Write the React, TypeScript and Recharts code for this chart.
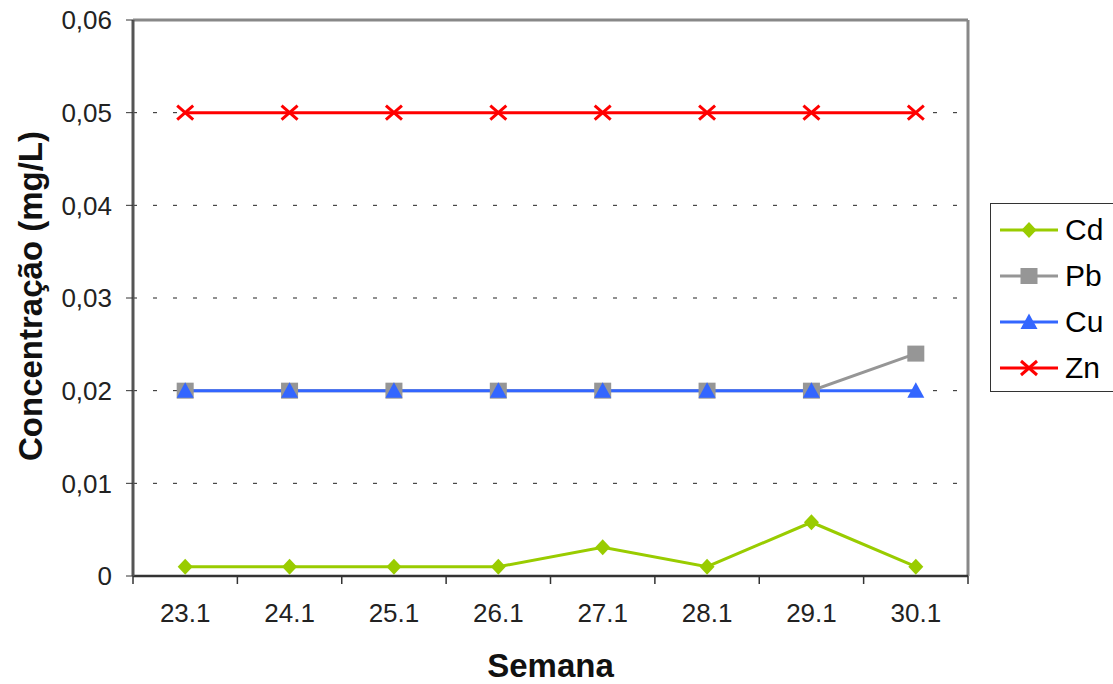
import React from 'react';
import { LineChart, Line, XAxis, YAxis, CartesianGrid } from 'recharts';

const WEEKS = ['23.1', '24.1', '25.1', '26.1', '27.1', '28.1', '29.1', '30.1'];
const CD = [0.001, 0.001, 0.001, 0.001, 0.0031, 0.001, 0.0058, 0.001];
const PB = [0.02, 0.02, 0.02, 0.02, 0.02, 0.02, 0.02, 0.024];
const CU = [0.02, 0.02, 0.02, 0.02, 0.02, 0.02, 0.02, 0.02];
const ZN = [0.05, 0.05, 0.05, 0.05, 0.05, 0.05, 0.05, 0.05];
const Y_TICKS = [0, 0.01, 0.02, 0.03, 0.04, 0.05, 0.06];

const SERIES = [
  { key: 'Cd', color: '#99CC00', shape: 'diamond' },
  { key: 'Pb', color: '#969696', shape: 'square' },
  { key: 'Cu', color: '#3366FF', shape: 'triangle' },
  { key: 'Zn', color: '#FF0000', shape: 'cross' },
];

const data = WEEKS.map((week, i) => ({ week, Cd: CD[i], Pb: PB[i], Cu: CU[i], Zn: ZN[i] }));

const FONT = '"Liberation Sans", Arial, sans-serif';
const W = 1113;
const H = 684;
const M = { top: 19, right: 144, bottom: 107, left: 53 };
const Y_W = 80;
const PLOT_W = W - M.left - Y_W - M.right - 1;
const BAND = PLOT_W / WEEKS.length;

const Marker = ({ shape, color, cx, cy }: { shape: string; color: string; cx: number; cy: number }) => {
  switch (shape) {
    case 'diamond':
      return <polygon points={`${cx},${cy - 8} ${cx + 7.5},${cy} ${cx},${cy + 8} ${cx - 7.5},${cy}`} fill={color} />;
    case 'square':
      return <rect x={cx - 8.5} y={cy - 8} width={17} height={16} fill={color} />;
    case 'triangle':
      return <polygon points={`${cx},${cy - 8.5} ${cx + 8.5},${cy + 7} ${cx - 8.5},${cy + 7}`} fill={color} />;
    default:
      return (
        <path
          d={`M${cx - 8},${cy - 7}L${cx + 8},${cy + 7}M${cx + 8},${cy - 7}L${cx - 8},${cy + 7}`}
          stroke={color}
          strokeWidth={3}
          fill="none"
        />
      );
  }
};

const fmtY = (v: number) => (v === 0 ? '0' : v.toFixed(2).replace('.', ','));

const XTick = (props: any) => {
  const { x, y, payload, index } = props;
  return (
    <g>
      <line x1={x - BAND / 2} x2={x - BAND / 2} y1={y} y2={y + 8} stroke="#333" strokeWidth={1.5} />
      {index === WEEKS.length - 1 && (
        <line x1={x + BAND / 2} x2={x + BAND / 2} y1={y} y2={y + 8} stroke="#333" strokeWidth={1.5} />
      )}
      <text x={x} y={y + 46} textAnchor="middle" fontSize={26} fill="#222" fontFamily={FONT}>
        {payload.value}
      </text>
    </g>
  );
};

const Legendbox = () => (
  <div
    style={{
      position: 'absolute',
      left: 990,
      top: 203,
      width: 140,
      height: 189,
      border: '1px solid #333',
      background: '#fff',
      paddingTop: 3,
      boxSizing: 'border-box',
    }}
  >
    {SERIES.map((s) => (
      <div key={s.key} style={{ height: 46, display: 'flex', alignItems: 'center' }}>
        <svg width={60} height={20} style={{ marginLeft: 8 }}>
          <line x1={1} x2={59} y1={10} y2={10} stroke={s.color} strokeWidth={3} />
          <Marker shape={s.shape} color={s.color} cx={30} cy={10} />
        </svg>
        <span style={{ marginLeft: 6, fontSize: 30, fontFamily: FONT, color: '#000' }}>{s.key}</span>
      </div>
    ))}
  </div>
);

export default function App() {
  return (
    <div style={{ position: 'absolute', left: 0, top: 0, width: W, height: H, overflow: 'hidden', background: '#fff' }}>
      <LineChart width={W} height={H} data={data} margin={M}>
        <CartesianGrid
          xAxisId="b"
          yAxisId="l"
          vertical={false}
          horizontalValues={[0.01, 0.02, 0.03, 0.04, 0.05]}
          stroke="#222"
          strokeDasharray="4 16"
        />
        <XAxis
          xAxisId="t"
          orientation="top"
          dataKey="week"
          scale="band"
          height={1}
          tick={false}
          tickLine={false}
          axisLine={{ stroke: '#888', strokeWidth: 3 }}
        />
        <YAxis
          yAxisId="r"
          orientation="right"
          width={1}
          domain={[0, 0.06]}
          tick={false}
          tickLine={false}
          axisLine={{ stroke: '#888', strokeWidth: 3 }}
        />
        <XAxis
          xAxisId="b"
          dataKey="week"
          scale="band"
          height={1}
          tickSize={0}
          tickMargin={0}
          tick={<XTick />}
          tickLine={false}
          interval={0}
          axisLine={{ stroke: '#333', strokeWidth: 2.5 }}
          label={{
            content: () => (
              <text x={M.left + Y_W + PLOT_W / 2} y={677} textAnchor="middle" fontSize={33} fontWeight="bold" fill="#111" fontFamily={FONT}>
                Semana
              </text>
            ),
          }}
        />
        <YAxis
          yAxisId="l"
          width={Y_W}
          domain={[0, 0.06]}
          ticks={Y_TICKS}
          interval={0}
          tickFormatter={fmtY}
          tickSize={7}
          tickMargin={14}
          tick={{ fontSize: 26, fill: '#222', fontFamily: FONT }}
          tickLine={{ stroke: '#333' }}
          axisLine={{ stroke: '#555', strokeWidth: 3 }}
          label={{
            content: () => (
              <text x={30} y={296} transform="rotate(-90, 30, 296)" textAnchor="middle" dominantBaseline="central" fontSize={33} fontWeight="bold" fill="#111" fontFamily={FONT}>
                Concentração (mg/L)
              </text>
            ),
          }}
        />
        {SERIES.map((s) => (
          <Line
            key={s.key}
            xAxisId="b"
            yAxisId="l"
            type="linear"
            dataKey={s.key}
            stroke={s.color}
            strokeWidth={3}
            isAnimationActive={false}
            activeDot={false}
            dot={(p: any) => <Marker key={`${s.key}-${p.index}`} shape={s.shape} color={s.color} cx={p.cx} cy={p.cy} />}
          />
        ))}
      </LineChart>
      <Legendbox />
    </div>
  );
}
